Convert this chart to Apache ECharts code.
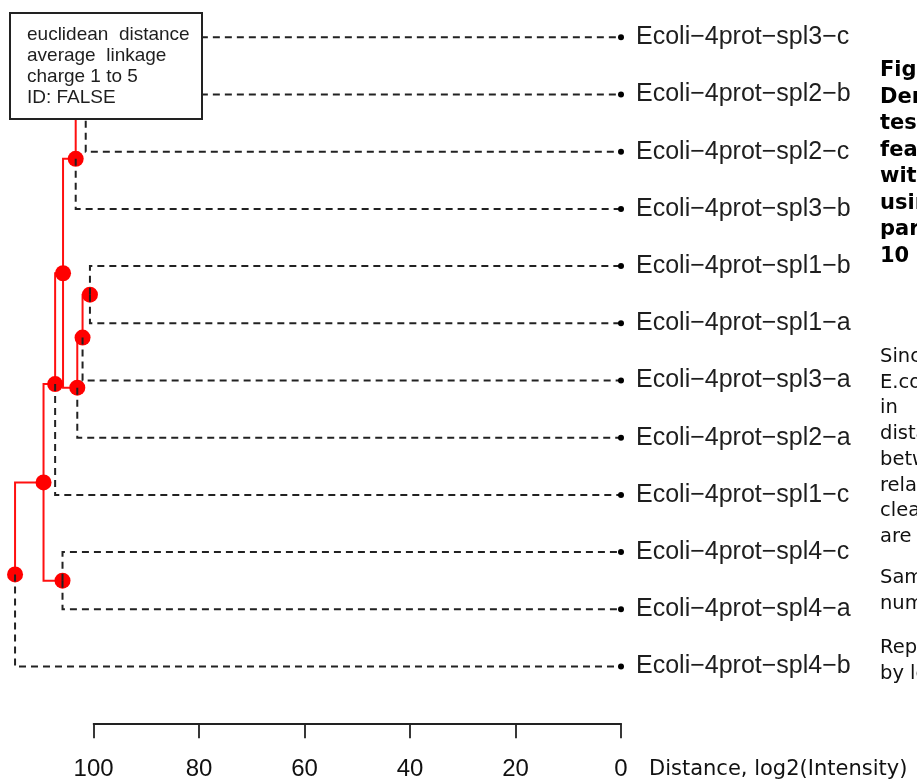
<!DOCTYPE html>
<html>
<head>
<meta charset="utf-8">
<title>Dendrogram</title>
<script src="https://cdn.jsdelivr.net/npm/echarts@6/dist/echarts.min.js"></script>
<style>
  html, body { margin: 0; padding: 0; background: #ffffff; }
  #chart { width: 917px; height: 783px; }
</style>
</head>
<body>
<div id="chart"></div>
<script>
// Leaf labels, top to bottom
const leaves = [
  'Ecoli\u22124prot\u2212spl3\u2212c',
  'Ecoli\u22124prot\u2212spl2\u2212b',
  'Ecoli\u22124prot\u2212spl2\u2212c',
  'Ecoli\u22124prot\u2212spl3\u2212b',
  'Ecoli\u22124prot\u2212spl1\u2212b',
  'Ecoli\u22124prot\u2212spl1\u2212a',
  'Ecoli\u22124prot\u2212spl3\u2212a',
  'Ecoli\u22124prot\u2212spl2\u2212a',
  'Ecoli\u22124prot\u2212spl1\u2212c',
  'Ecoli\u22124prot\u2212spl4\u2212c',
  'Ecoli\u22124prot\u2212spl4\u2212a',
  'Ecoli\u22124prot\u2212spl4\u2212b'
];

// hclust-style merge table: negative = leaf (1-based), positive = earlier merge row
const mergeLeft   = [-1, 1, 2, -5, 4, 5, 3, 7, -10, 8, 10];
const mergeRight  = [-2, -3, -4, -6, -7, -8, 6, -9, -11, 9, -12];
const mergeHeight = [97.0, 101.5, 103.4, 100.7, 102.1, 103.1, 105.8, 107.3, 105.9, 109.5, 114.9];

// Distance axis ticks
const distTicks = [0, 20, 40, 60, 80, 100];

// Annotation box text
const legendLines = ['euclidean  distance', 'average  linkage', 'charge 1 to 5', 'ID: FALSE'];

// Page text beside the figure
const captionBold = ['Figure', 'Dendrogram', 'test', 'features', 'with', 'using', 'parameters', '10'];
const bodyText1 = ['Since', 'E.coli', 'in', 'distance', 'between', 'related', 'clearly', 'are'];
const bodyText2 = ['Samples', 'numbered'];
const bodyText3 = ['Replicates', 'by letters'];

// Build node layout: leaf at height 0, internal node y = midpoint of its children
const nodes = [];
function ref(r) {
  return r < 0 ? { h: 0, y: -r - 1, leaf: true } : nodes[r - 1];
}
for (let i = 0; i < mergeHeight.length; i++) {
  const a = ref(mergeLeft[i]);
  const b = ref(mergeRight[i]);
  nodes.push({ h: mergeHeight[i], y: (a.y + b.y) / 2, kids: [a, b], leaf: false });
}

const innerEdges = [];
const leafEdges = [];
nodes.forEach(n => {
  n.kids.forEach(c => {
    const coords = [[n.h, n.y], [n.h, c.y], [c.h, c.y]];
    (c.leaf ? leafEdges : innerEdges).push({ coords });
  });
});
const nodePoints = nodes.map(n => [n.h, n.y]);
const leafPoints = leaves.map((_, i) => [0, i]);

const pxPerUnit = 527.37 / 100;
const axisRight = 621;
const treeMax = 116;

const chart = echarts.init(document.getElementById('chart'), null, { renderer: 'canvas' });

const bodyFont = '19.5px "DejaVu Sans", Verdana, sans-serif';
const graphics = [];
graphics.push({
  type: 'rect', z: 100,
  shape: { x: 10, y: 13, width: 192, height: 106 },
  style: { fill: '#ffffff', stroke: '#222222', lineWidth: 2 }
});
legendLines.forEach((t, i) => {
  graphics.push({
    type: 'text', z: 101, x: 27, y: 35 + i * 21,
    style: { text: t, fill: '#1e1e1e', font: '19px "Liberation Sans", Arial, sans-serif', textVerticalAlign: 'middle' }
  });
});
graphics.push({
  type: 'text', z: 101, x: 649, y: 770,
  style: { text: 'Distance, log2(Intensity)', fill: '#111111', font: '21px "DejaVu Sans", Verdana, sans-serif', textVerticalAlign: 'middle' }
});
captionBold.forEach((t, i) => {
  graphics.push({
    type: 'text', z: 101, x: 880, y: 71 + i * 26.5,
    style: { text: t, fill: '#000000', font: 'bold 21px "DejaVu Sans", Verdana, sans-serif', textVerticalAlign: 'middle' }
  });
});
bodyText1.forEach((t, i) => {
  graphics.push({
    type: 'text', z: 101, x: 880, y: 357 + i * 25.7,
    style: { text: t, fill: '#111111', font: bodyFont, textVerticalAlign: 'middle' }
  });
});
bodyText2.forEach((t, i) => {
  graphics.push({
    type: 'text', z: 101, x: 880, y: 578 + i * 26,
    style: { text: t, fill: '#111111', font: bodyFont, textVerticalAlign: 'middle' }
  });
});
bodyText3.forEach((t, i) => {
  graphics.push({
    type: 'text', z: 101, x: 880, y: 648 + i * 26,
    style: { text: t, fill: '#111111', font: bodyFont, textVerticalAlign: 'middle' }
  });
});

const option = {
  backgroundColor: '#ffffff',
  animation: false,
  grid: [
    { left: axisRight - treeMax * pxPerUnit, right: 917 - axisRight, top: 37.3, bottom: 116.5 },
    { left: axisRight - distTicks[distTicks.length - 1] * pxPerUnit, right: 917 - axisRight, top: 700, bottom: 783 - 723.3 }
  ],
  xAxis: [
    { gridIndex: 0, type: 'value', inverse: true, min: 0, max: treeMax, show: false },
    {
      gridIndex: 1, type: 'value', inverse: true,
      min: distTicks[0], max: distTicks[distTicks.length - 1], interval: 20,
      position: 'bottom',
      axisLine: { show: true, lineStyle: { color: '#222222', width: 1.8 } },
      axisTick: { show: true, inside: false, length: 15, lineStyle: { color: '#222222', width: 1.8 } },
      splitLine: { show: false },
      axisLabel: {
        show: true, margin: 46, verticalAlign: 'middle',
        color: '#111111', fontSize: 24, fontFamily: '"Liberation Sans", Arial, sans-serif'
      }
    }
  ],
  yAxis: [
    {
      gridIndex: 0, type: 'value', inverse: true, min: 0, max: leaves.length - 1, interval: 1,
      position: 'right',
      axisLine: { show: false }, axisTick: { show: false }, splitLine: { show: false },
      axisLabel: {
        show: true, margin: 15, align: 'left',
        color: '#1e1e1e', fontSize: 25, fontFamily: '"Liberation Sans", Arial, sans-serif',
        formatter: v => leaves[Math.round(v)] || ''
      }
    },
    { gridIndex: 1, type: 'value', show: false, min: 0, max: 1 }
  ],
  graphic: graphics,
  series: [
    {
      name: 'inner edges', type: 'lines', coordinateSystem: 'cartesian2d',
      xAxisIndex: 0, yAxisIndex: 0, polyline: true, clip: false, z: 2,
      lineStyle: { color: '#ff1010', width: 2, type: 'solid', opacity: 1 },
      data: innerEdges
    },
    {
      name: 'nodes', type: 'scatter', xAxisIndex: 0, yAxisIndex: 0, clip: false, z: 3,
      symbol: 'circle', symbolSize: 16,
      itemStyle: { color: '#ff0000', opacity: 1 },
      data: nodePoints
    },
    {
      name: 'leaf edges', type: 'lines', coordinateSystem: 'cartesian2d',
      xAxisIndex: 0, yAxisIndex: 0, polyline: true, clip: false, z: 4,
      lineStyle: { color: '#222222', width: 2, type: [7, 5], opacity: 1 },
      data: leafEdges
    },
    {
      name: 'leaves', type: 'scatter', xAxisIndex: 0, yAxisIndex: 0, clip: false, z: 5,
      symbol: 'circle', symbolSize: 6,
      itemStyle: { color: '#000000', opacity: 1 },
      data: leafPoints
    }
  ]
};

chart.setOption(option);
</script>
</body>
</html>
